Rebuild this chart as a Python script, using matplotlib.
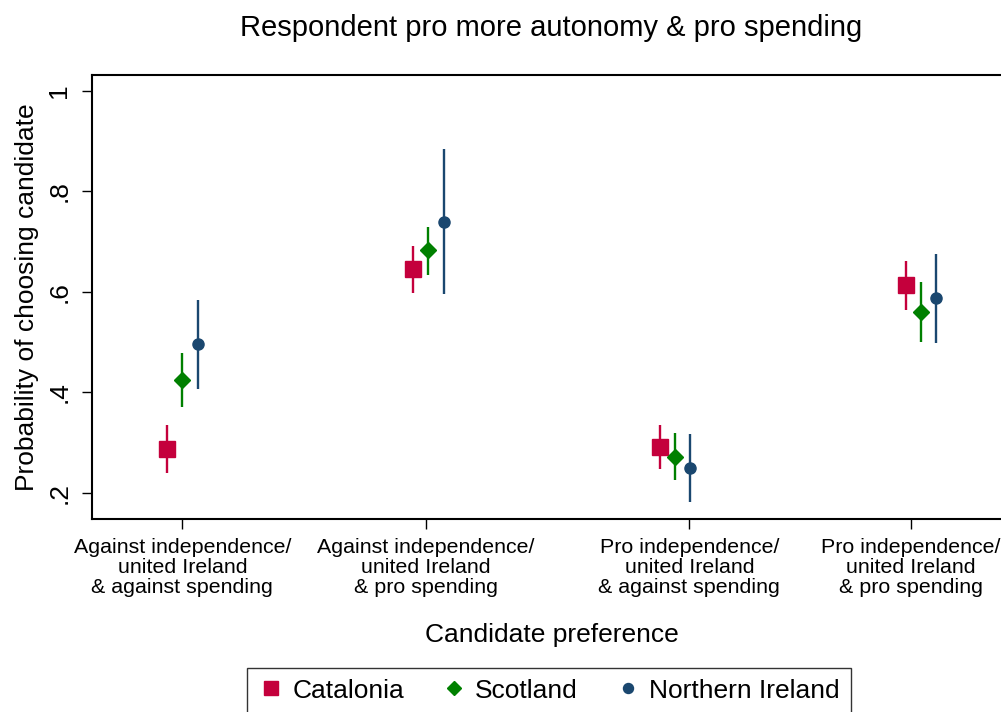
import matplotlib.pyplot as plt
import numpy as np

plt.rcParams['font.family'] = ['Liberation Sans', 'DejaVu Sans']

groups = ['Against independence/\nunited Ireland\n& against spending',
          'Against independence/\nunited Ireland\n& pro spending',
          'Pro independence/\nunited Ireland\n& against spending',
          'Pro independence/\nunited Ireland\n& pro spending']
tick_pos = [1.0, 1.99, 3.06, 3.96]

regions = ['Catalonia', 'Scotland', 'Northern Ireland']
est = {
    'Catalonia':        [0.286, 0.645, 0.290, 0.613],
    'Scotland':         [0.425, 0.682, 0.271, 0.560],
    'Northern Ireland': [0.495, 0.739, 0.249, 0.587],
}
lo = {
    'Catalonia':        [0.240, 0.597, 0.247, 0.564],
    'Scotland':         [0.371, 0.634, 0.225, 0.499],
    'Northern Ireland': [0.407, 0.595, 0.181, 0.497],
}
hi = {
    'Catalonia':        [0.334, 0.691, 0.334, 0.662],
    'Scotland':         [0.478, 0.729, 0.319, 0.619],
    'Northern Ireland': [0.583, 0.884, 0.317, 0.676],
}

colors = {'Catalonia': '#c4003c', 'Scotland': '#008000', 'Northern Ireland': '#1a476f'}
markers = {'Catalonia': 's', 'Scotland': 'D', 'Northern Ireland': 'o'}
msizes = {'Catalonia': 11, 'Scotland': 8, 'Northern Ireland': 8}
offsets = {'Catalonia': -0.061, 'Scotland': 0.0, 'Northern Ireland': 0.062}

fig = plt.figure(figsize=(10.01, 7.12), dpi=100)
ax = fig.add_axes([92/1001, 1 - 518.7/712, (1011 - 92)/1001, (518.7 - 74.7)/712])

x = np.arange(1, len(groups) + 1)
handles = []
for r in regions:
    e = np.array(est[r])
    yerr = [e - np.array(lo[r]), np.array(hi[r]) - e]
    ax.errorbar(x + offsets[r], e, yerr=yerr, fmt='none', ecolor=colors[r],
                elinewidth=1.7, capsize=0)
    h, = ax.plot(x + offsets[r], e, linestyle='none', marker=markers[r],
                 color=colors[r], markersize=msizes[r], label=r)
    handles.append(h)

ax.set_xlim(0.633, 4.367)
ax.set_ylim(0.1483, 1.0318)
ax.set_yticks([0.2, 0.4, 0.6, 0.8, 1.0])
ax.set_yticklabels(['.2', '.4', '.6', '.8', '1'], rotation=90, va='center', fontsize=19)
ax.set_xticks(tick_pos)
ax.set_xticklabels(groups, fontsize=15.4, linespacing=1.05)
ax.tick_params(axis='both', length=7, width=1, direction='out')
ax.tick_params(axis='y', pad=8)
ax.tick_params(axis='x', pad=7)
for s in ax.spines.values():
    s.set_linewidth(1.5)

ax.set_ylabel('Probability of choosing candidate', fontsize=19, labelpad=6)
ax.set_xlabel('Candidate preference', fontsize=19, labelpad=19)
fig.text(551/1001, 1 - 28/712, 'Respondent pro more autonomy & pro spending',
         ha='center', va='center', fontsize=21)

fig.legend(handles=handles, loc='upper center', bbox_to_anchor=(549/1001, 1 - 668/712),
           ncol=3, frameon=True, fancybox=False, edgecolor='black', fontsize=19,
           handletextpad=0.3, columnspacing=1.4, borderpad=0.4, borderaxespad=0,
           handlelength=1.0, markerscale=0.9)

fig.savefig('out.png', dpi=100)
